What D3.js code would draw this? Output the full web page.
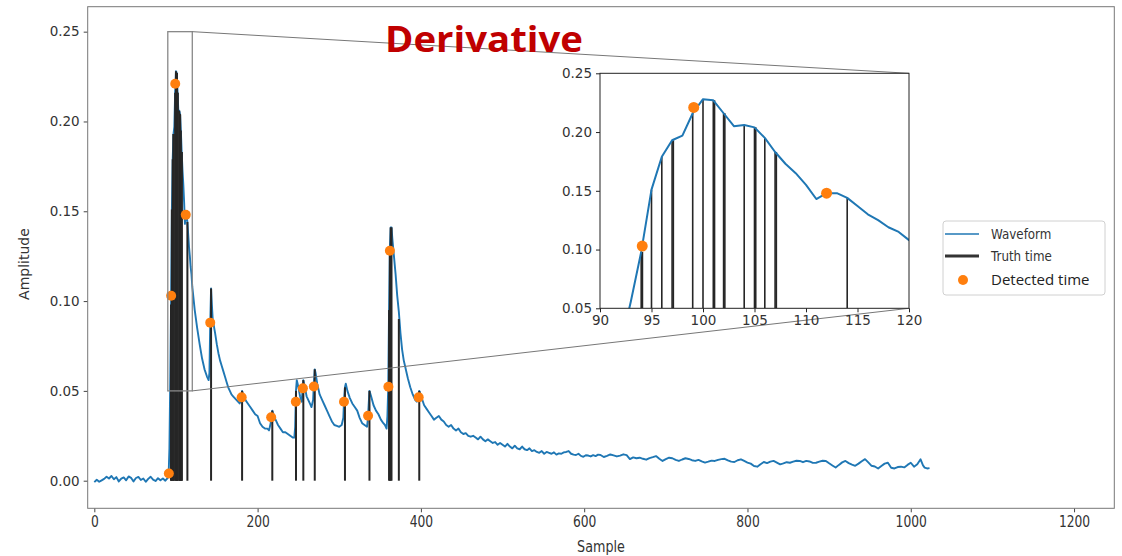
<!DOCTYPE html>
<html>
<head>
<meta charset="utf-8">
<script src="https://cdn.jsdelivr.net/npm/d3@7"></script>
<style>
  body { margin: 0; background: #fff; }
</style>
</head>
<body>
<svg id="chart" width="1122" height="556"></svg>
<script>
// waveform: [sample, amplitude]
var waveform = [
  [0,-0.0008],[3,0.0005],[6,-0.0006],[9,0.0002],[12,0.001],[15,0.0022],[18,0.0012],[21,0.0026],
  [24,0.0008],[27,0.002],[30,-0.0004],[33,0.0012],[36,0.0018],[39,0.0002],[42,0.0024],[45,0.0016],
  [48,-0.0004],[51,0.0015],[54,0.0021],[57,0.0004],[60,0.0012],[63,-0.0006],[66,0.001],[69,0.0022],
  [72,0.0006],[75,-0.0002],[78,0.0014],[81,0.0002],[84,0.0012],[87,0.0],[90,0.0016],[91,0.003],
  [92,0.018],[93,0.056],[94,0.098],[95,0.151],[96,0.179],[97,0.193],[98,0.197],[99,0.216],
  [100,0.228],[101,0.227],[102,0.216],[103,0.205],[104,0.206],[105,0.204],[106,0.195],[107,0.183],
  [108,0.173],[109,0.165],[110,0.155],[111,0.143],[112,0.148],[113,0.148],[114,0.144],[115,0.137],
  [116,0.130],[117,0.125],[118,0.119],[119,0.115],[120,0.108],[123,0.095],[126,0.085],[129,0.076],
  [132,0.068],[135,0.062],[138,0.058],[140,0.056],[141,0.060],[142,0.088],[143,0.107],[144,0.098],
  [145,0.090],[148,0.082],[150,0.076],[152,0.071],[154,0.067],[156,0.064],[158,0.061],[160,0.058],
  [162,0.055],[164,0.052],[166,0.050],[168,0.048],[170,0.047],[172,0.046],[174,0.045],[176,0.044],
  [178,0.043],[179,0.044],[180,0.047],[181,0.050],[183,0.047],[185,0.045],[188,0.043],[191,0.041],
  [194,0.039],[197,0.037],[200,0.036],[203,0.032],[206,0.030],[209,0.029],[212,0.029],[214,0.028],
  [216,0.032],[217,0.037],[218,0.039],[220,0.036],[222,0.034],[225,0.031],[228,0.029],[231,0.027],
  [234,0.027],[237,0.026],[240,0.025],[243,0.024],[245,0.024],[246,0.030],[247,0.050],[248,0.056],
  [250,0.052],[252,0.047],[254,0.044],[255,0.050],[256,0.056],[258,0.052],[260,0.047],[262,0.045],
  [264,0.043],[266,0.041],[268,0.045],[269,0.055],[270,0.062],[271,0.060],[273,0.054],[276,0.048],
  [279,0.045],[282,0.042],[285,0.039],[288,0.036],[291,0.033],[294,0.031],[297,0.0305],[300,0.030],
  [303,0.031],[305,0.035],[306,0.046],[307,0.052],[308,0.054],[310,0.050],[313,0.046],[316,0.043],
  [319,0.041],[322,0.039],[325,0.035],[328,0.032],[331,0.031],[334,0.030],[335,0.034],[336,0.042],
  [337,0.050],[339,0.047],[342,0.042],[345,0.039],[348,0.037],[351,0.034],[354,0.032],[356,0.031],
  [358,0.029],[359,0.036],[360,0.052],[361,0.095],[362,0.130],[363,0.141],[364,0.141],[365,0.135],
  [367,0.125],[369,0.115],[371,0.103],[373,0.094],[375,0.082],[377,0.073],[379,0.067],[381,0.063],
  [384,0.057],[387,0.052],[390,0.048],[393,0.045],[395,0.044],[396,0.046],[397,0.047],[398,0.050],
  [399,0.049],[401,0.046],[404,0.042],[407,0.040],[410,0.038],[413,0.036],[416,0.034],[419,0.035],
  [422,0.036],[425,0.034],[428,0.033],[431,0.031],[434,0.030],[437,0.031],[440,0.029],[443,0.028],
  [446,0.029],[449,0.027],[452,0.026],[455,0.0265],[458,0.025],[461,0.0245],[464,0.025],[467,0.024],
  [470,0.023],[473,0.0245],[476,0.023],[479,0.022],[482,0.023],[485,0.022],[488,0.021],[491,0.0215],
  [494,0.020],[497,0.021],[500,0.020],[503,0.019],[506,0.0205],[509,0.019],[512,0.018],[515,0.0195],
  [518,0.018],[521,0.0175],[524,0.019],[527,0.0175],[530,0.017],[533,0.018],[536,0.0165],[539,0.017],
  [542,0.016],[545,0.0155],[548,0.0165],[551,0.015],[554,0.016],[557,0.0155],[560,0.015],[563,0.0158],
  [566,0.0145],[569,0.0152],[572,0.015],[575,0.0158],[578,0.016],[581,0.0165],[584,0.015],[587,0.0145],
  [590,0.0143],[593,0.015],[596,0.0138],[599,0.0133],[602,0.0142],[605,0.014],[608,0.0135],[611,0.0142],
  [614,0.0137],[617,0.0145],[620,0.0143],[624,0.0132],[628,0.0138],[632,0.0146],[636,0.0141],[640,0.0135],
  [644,0.014],[648,0.0147],[652,0.0142],[656,0.012],[660,0.013],[664,0.0125],[668,0.0128],[672,0.0122],
  [676,0.0117],[680,0.0126],[684,0.0131],[688,0.0137],[692,0.0122],[696,0.011],[700,0.012],[704,0.0128],
  [708,0.0125],[712,0.0116],[716,0.011],[720,0.0118],[724,0.0125],[728,0.0121],[732,0.0114],[736,0.011],
  [740,0.0116],[744,0.0108],[748,0.0101],[752,0.0106],[756,0.0112],[760,0.011],[764,0.0116],[768,0.012],
  [772,0.0122],[776,0.0113],[780,0.0106],[784,0.0104],[788,0.0114],[792,0.0119],[796,0.011],[800,0.0101],
  [804,0.0095],[808,0.0082],[812,0.0078],[816,0.0092],[820,0.0104],[824,0.0098],[828,0.0106],[832,0.011],
  [836,0.0101],[840,0.0091],[844,0.0096],[848,0.0103],[852,0.01],[856,0.0106],[860,0.0111],[864,0.011],
  [868,0.0103],[872,0.011],[876,0.0107],[880,0.0099],[884,0.01],[888,0.0106],[892,0.0111],[896,0.011],
  [900,0.0097],[904,0.0085],[908,0.0073],[912,0.0088],[916,0.0102],[920,0.011],[924,0.0098],[928,0.009],
  [932,0.0083],[936,0.0095],[940,0.0108],[944,0.012],[948,0.0102],[952,0.0083],[956,0.0079],[960,0.0068],
  [964,0.0082],[968,0.0095],[972,0.01],[976,0.0072],[980,0.0068],[984,0.0076],[988,0.0078],[992,0.0074],
  [996,0.0088],[1000,0.01],[1004,0.0078],[1008,0.0092],[1012,0.0119],[1015,0.0085],[1017,0.0073],
  [1020,0.0068],[1023,0.007]
];

// truth times (vertical stems) and the amplitude each stem reaches
var truthTime = [94, 94.12, 95, 96, 97, 97.12, 99, 100, 101, 101.12, 102, 102.12, 104, 105, 105.12,
  106, 107, 107.12, 114, 143, 181, 218, 247, 256, 270, 307, 337, 361, 362, 363, 364, 373, 398];
var truthAmp = [0.098, 0.098, 0.151, 0.179, 0.193, 0.193, 0.216, 0.228, 0.227, 0.227, 0.216, 0.216,
  0.206, 0.204, 0.204, 0.195, 0.183, 0.183, 0.144, 0.107, 0.050, 0.039, 0.050, 0.056, 0.062, 0.052,
  0.050, 0.095, 0.130, 0.141, 0.141, 0.090, 0.050];

// detected times (orange dots)
var detectedTime = [91.3, 94.1, 99.1, 112, 142, 180.5, 216.6, 246.8, 255.5, 268.9, 305.8, 335.3, 360.2, 362, 397.3];
var detectedAmp = [0.004, 0.103, 0.221, 0.148, 0.088, 0.0464, 0.0353, 0.044, 0.0514, 0.0524, 0.044, 0.0362, 0.0523, 0.128, 0.0464];

var xTicks = [0, 200, 400, 600, 800, 1000, 1200];
var yTicks = [0, 0.05, 0.10, 0.15, 0.20, 0.25];
var inXTicks = [90, 95, 100, 105, 110, 115, 120];
var inYTicks = [0.05, 0.10, 0.15, 0.20, 0.25];
var zoomX = [90, 120], zoomY = [0.05, 0.25];

var blue = "#1f77b4", orange = "#ff7f0e", stemCol = "#262626";
var font = "DejaVu Sans, sans-serif";

var truth = d3.zip(truthTime, truthAmp);
var detected = d3.zip(detectedTime, detectedAmp);

var svg = d3.select("#chart");

// main scales
var x = d3.scaleLinear().domain([-8.1, 1249.3]).range([87.7, 1114.3]);
var y = d3.scaleLinear().domain([-0.01537, 0.2639]).range([508.3, 6.7]);

// inset scales
var xi = d3.scaleLinear().domain(zoomX).range([600, 909]);
var yi = d3.scaleLinear().domain(zoomY).range([308.3, 73.3]);

var line = d3.line().x(function(d) { return x(d[0]); }).y(function(d) { return y(d[1]); });
var lineIn = d3.line().x(function(d) { return xi(d[0]); }).y(function(d) { return yi(d[1]); });

// main waveform
svg.append("path")
  .datum(waveform)
  .attr("d", line)
  .attr("fill", "none")
  .attr("stroke", blue)
  .attr("stroke-width", 1.9)
  .attr("stroke-linejoin", "round");

// truth stems
svg.append("g").selectAll("line")
  .data(truth)
  .enter()
  .append("line")
  .attr("x1", function(d) { return x(d[0]); })
  .attr("x2", function(d) { return x(d[0]); })
  .attr("y1", y(0))
  .attr("y2", function(d) { return y(d[1]); })
  .attr("stroke", stemCol)
  .attr("stroke-width", 2);

// detected dots
svg.append("g").selectAll("circle")
  .data(detected)
  .enter()
  .append("circle")
  .attr("cx", function(d) { return x(d[0]); })
  .attr("cy", function(d) { return y(d[1]); })
  .attr("r", 5)
  .attr("fill", orange);

// zoom indicator and connectors
svg.append("rect")
  .attr("x", x(zoomX[0]))
  .attr("y", y(zoomY[1]))
  .attr("width", x(zoomX[1]) - x(zoomX[0]))
  .attr("height", y(zoomY[0]) - y(zoomY[1]))
  .attr("fill", "none")
  .attr("stroke", "#888")
  .attr("stroke-width", 1.3);

svg.append("line")
  .attr("x1", x(zoomX[1])).attr("y1", y(zoomY[1]))
  .attr("x2", xi(zoomX[1])).attr("y2", yi(zoomY[1]))
  .attr("stroke", "#777").attr("stroke-width", 1);
svg.append("line")
  .attr("x1", x(zoomX[1])).attr("y1", y(zoomY[0]))
  .attr("x2", xi(zoomX[1])).attr("y2", yi(zoomY[0]))
  .attr("stroke", "#777").attr("stroke-width", 1);

// main axes
var xAxis = svg.append("g")
  .attr("transform", "translate(0," + y.range()[0] + ")")
  .call(d3.axisBottom(x).tickValues(xTicks).tickSize(4).tickPadding(4).tickFormat(d3.format("d")));
xAxis.select(".domain").remove();
xAxis.selectAll("line").attr("stroke", "#444");
xAxis.selectAll("text")
  .attr("font-family", font).attr("font-size", 15).attr("fill", "#333")
  .attr("transform", "scale(0.82,1)");

var yAxis = svg.append("g")
  .attr("transform", "translate(" + x.range()[0] + ",0)")
  .call(d3.axisLeft(y).tickValues(yTicks).tickSize(4).tickPadding(4).tickFormat(d3.format(".2f")));
yAxis.select(".domain").remove();
yAxis.selectAll("line").attr("stroke", "#444");
yAxis.selectAll("text").attr("font-family", font).attr("font-size", 13.5).attr("fill", "#333");

// main frame
svg.append("rect")
  .attr("x", x.range()[0]).attr("y", y.range()[1])
  .attr("width", x.range()[1] - x.range()[0])
  .attr("height", y.range()[0] - y.range()[1])
  .attr("fill", "none")
  .attr("stroke", "#777")
  .attr("stroke-width", 1);

svg.append("text")
  .attr("transform", "translate(601,552) scale(0.85,1)")
  .attr("text-anchor", "middle")
  .attr("font-family", font).attr("font-size", 15).attr("fill", "#333")
  .text("Sample");

svg.append("text")
  .attr("transform", "translate(29,264) rotate(-90)")
  .attr("text-anchor", "middle")
  .attr("font-family", font).attr("font-size", 14).attr("fill", "#333")
  .text("Amplitude");

// inset
svg.append("clipPath").attr("id", "inclip")
  .append("rect")
  .attr("x", 600).attr("y", 73.3).attr("width", 309).attr("height", 235);

svg.append("rect")
  .attr("x", 600).attr("y", 73.3).attr("width", 309).attr("height", 235)
  .attr("fill", "#fff");

var inset = svg.append("g").attr("clip-path", "url(#inclip)");

inset.append("g").selectAll("line")
  .data(truth)
  .enter()
  .append("line")
  .attr("x1", function(d) { return xi(d[0]); })
  .attr("x2", function(d) { return xi(d[0]); })
  .attr("y1", yi(zoomY[0]))
  .attr("y2", function(d) { return yi(d[1]); })
  .attr("stroke", stemCol)
  .attr("stroke-width", 1.6);

inset.append("path")
  .datum(waveform)
  .attr("d", lineIn)
  .attr("fill", "none")
  .attr("stroke", blue)
  .attr("stroke-width", 2)
  .attr("stroke-linejoin", "round");

inset.append("g").selectAll("circle")
  .data(detected)
  .enter()
  .append("circle")
  .attr("cx", function(d) { return xi(d[0]); })
  .attr("cy", function(d) { return yi(d[1]); })
  .attr("r", 5.5)
  .attr("fill", orange);

var xiAxis = svg.append("g")
  .attr("transform", "translate(0," + yi.range()[0] + ")")
  .call(d3.axisBottom(xi).tickValues(inXTicks).tickSize(4).tickPadding(3).tickFormat(d3.format("d")));
xiAxis.select(".domain").remove();
xiAxis.selectAll("line").attr("stroke", "#222");
xiAxis.selectAll("text").attr("font-family", font).attr("font-size", 13.5).attr("fill", "#333");

var yiAxis = svg.append("g")
  .attr("transform", "translate(" + xi.range()[0] + ",0)")
  .call(d3.axisLeft(yi).tickValues(inYTicks).tickSize(4).tickPadding(4).tickFormat(d3.format(".2f")));
yiAxis.select(".domain").remove();
yiAxis.selectAll("line").attr("stroke", "#222");
yiAxis.selectAll("text").attr("font-family", font).attr("font-size", 13.5).attr("fill", "#333");

svg.append("rect")
  .attr("x", 600).attr("y", 73.3).attr("width", 309).attr("height", 235)
  .attr("fill", "none")
  .attr("stroke", "#222")
  .attr("stroke-width", 1);

// title
svg.append("text")
  .attr("x", 385).attr("y", 52)
  .attr("font-family", "Open Sans, sans-serif").attr("font-weight", 700).attr("font-size", 36)
  .attr("fill", "#c00000")
  .attr("textLength", 198).attr("lengthAdjust", "spacingAndGlyphs")
  .text("Derivative");

// legend
var lg = svg.append("g").attr("transform", "translate(943,221)");
lg.append("rect")
  .attr("width", 162).attr("height", 74).attr("rx", 3)
  .attr("fill", "#fff").attr("stroke", "#d0d0d0");
lg.append("line").attr("x1", 2).attr("x2", 36).attr("y1", 13).attr("y2", 13)
  .attr("stroke", blue).attr("stroke-width", 1.5);
lg.append("line").attr("x1", 2).attr("x2", 36).attr("y1", 35).attr("y2", 35)
  .attr("stroke", "#333").attr("stroke-width", 3);
lg.append("circle").attr("cx", 20).attr("cy", 59).attr("r", 5).attr("fill", orange);
lg.append("text").attr("transform", "translate(48,18) scale(0.85,1)")
  .attr("font-family", font).attr("font-size", 14).attr("fill", "#333").text("Waveform");
lg.append("text").attr("transform", "translate(48,40) scale(0.85,1)")
  .attr("font-family", font).attr("font-size", 14).attr("fill", "#333").text("Truth time");
lg.append("text").attr("x", 48).attr("y", 64)
  .attr("font-family", "Open Sans, sans-serif").attr("font-size", 15).attr("fill", "#222").text("Detected time");
</script>
</body>
</html>
